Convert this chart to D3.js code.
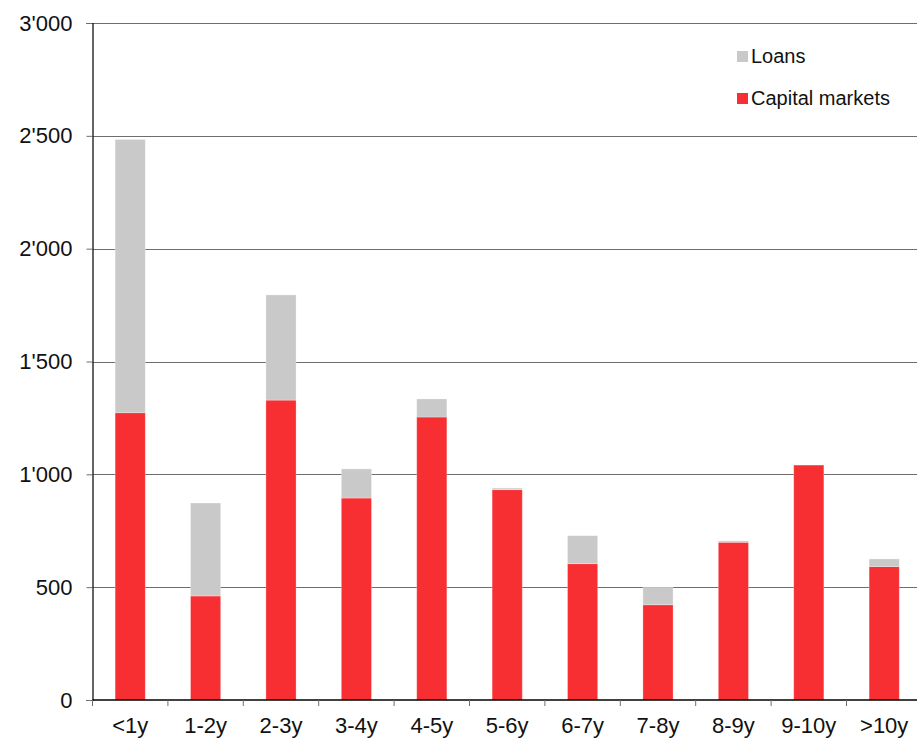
<!DOCTYPE html>
<html>
<head>
<meta charset="utf-8">
<script src="https://cdn.jsdelivr.net/npm/d3@7"></script>
<style>
  html, body { margin: 0; padding: 0; background: #fff; }
  svg { display: block; font-family: "Liberation Sans", Arial, sans-serif; }
</style>
</head>
<body>
<svg id="chart" width="917" height="738"></svg>
<script>
// Maturity buckets and outstanding amounts
const categories = ["<1y", "1-2y", "2-3y", "3-4y", "4-5y", "5-6y", "6-7y", "7-8y", "8-9y", "9-10y", ">10y"];
const capitalMarkets = [1273, 461, 1329, 895, 1254, 932, 604, 422, 699, 1041, 591];
const loans = [1211, 412, 466, 129, 80, 7, 124, 77, 6, 0, 34];
const yTicks = [0, 500, 1000, 1500, 2000, 2500, 3000];
const seriesNames = ["Loans", "Capital markets"];
const seriesColors = { "Loans": "#c9c9c9", "Capital markets": "#f72f33" };

const svg = d3.select("#chart");
const plotLeft = 92.5, plotRight = 917, plotTop = 23, plotBottom = 700;
const step = 75.4;

const x = d3.scaleBand()
  .domain(categories)
  .range([plotLeft, plotLeft + step * categories.length])
  .paddingInner(0.6)
  .paddingOuter(0.3);

const y = d3.scaleLinear().domain([0, 3000]).range([plotBottom, plotTop]);

const fmt = v => d3.format(",")(v).replace(/,/g, "'");

// Horizontal gridlines
svg.append("g")
  .selectAll("line")
  .data(yTicks.filter(d => d > 0))
  .join("line")
  .attr("x1", plotLeft).attr("x2", plotRight)
  .attr("y1", d => Math.round(y(d)) + 0.5).attr("y2", d => Math.round(y(d)) + 0.5)
  .attr("stroke", "#6e6e6e").attr("stroke-width", 1);

// Stacked bars
const rows = categories.map((c, i) => ({ cat: c, cm: capitalMarkets[i], loans: loans[i] }));
const stack = d3.stack().keys(["cm", "loans"])(rows);
const keyName = { cm: "Capital markets", loans: "Loans" };

svg.append("g")
  .selectAll("g")
  .data(stack)
  .join("g")
  .attr("fill", s => seriesColors[keyName[s.key]])
  .selectAll("rect")
  .data(s => s.filter(d => d[1] > d[0]))
  .join("rect")
  .attr("x", d => x(d.data.cat))
  .attr("width", x.bandwidth())
  .attr("y", d => y(d[1]))
  .attr("height", d => y(d[0]) - y(d[1]))
  .attr("stroke", "#ffffff")
  .attr("stroke-opacity", 0.35)
  .attr("stroke-width", 0.8);

// Y axis
const yAxis = svg.append("g").attr("transform", `translate(${plotLeft},0)`)
  .call(d3.axisLeft(y).tickValues(yTicks).tickFormat(fmt).tickSize(6).tickPadding(14));
yAxis.select(".domain").attr("stroke", "#000").attr("stroke-width", 1.2);
yAxis.selectAll(".tick line").attr("stroke", "#6e6e6e");
yAxis.selectAll(".tick text")
  .attr("font-size", 22).attr("fill", "#111")
  .attr("font-family", "'Liberation Sans', Arial, sans-serif");

// X axis line and boundary ticks
svg.append("line")
  .attr("x1", plotLeft).attr("x2", plotRight)
  .attr("y1", plotBottom).attr("y2", plotBottom)
  .attr("stroke", "#000").attr("stroke-width", 1.5);

const boundaries = categories.map(c => x(c) - (x.step() - x.bandwidth()) / 2);
svg.append("g")
  .selectAll("line")
  .data(boundaries)
  .join("line")
  .attr("x1", d => d).attr("x2", d => d)
  .attr("y1", plotBottom).attr("y2", plotBottom + 6)
  .attr("stroke", "#6e6e6e");

svg.append("g")
  .selectAll("text")
  .data(categories)
  .join("text")
  .attr("x", c => x(c) + x.bandwidth() / 2)
  .attr("y", 733)
  .attr("text-anchor", "middle")
  .attr("font-size", 22)
  .attr("fill", "#111")
  .text(c => c);

// Legend
const legend = svg.append("g");
seriesNames.forEach((name, i) => {
  const ly = 51 + i * 42;
  legend.append("rect")
    .attr("x", 737).attr("y", ly)
    .attr("width", 11).attr("height", 11)
    .attr("fill", seriesColors[name]);
  legend.append("text")
    .attr("x", 751).attr("y", ly + 12)
    .attr("font-size", 20).attr("fill", "#111")
    .text(name);
});
</script>
</body>
</html>
